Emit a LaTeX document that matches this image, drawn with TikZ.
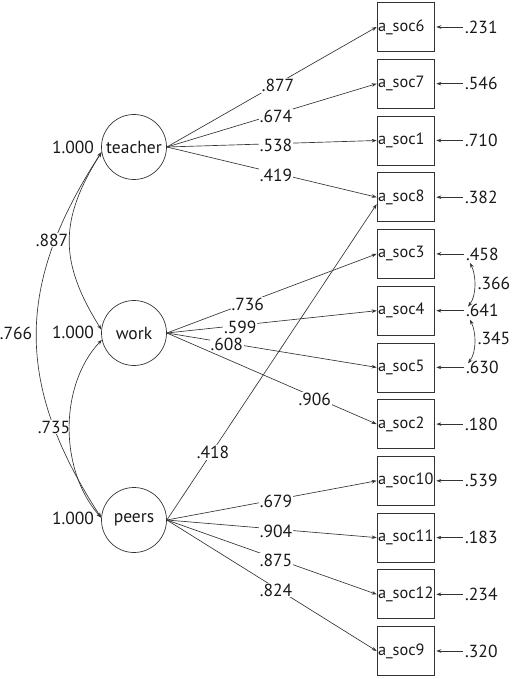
\documentclass[tikz,border=0pt]{standalone}
\usepackage{fontspec}
\setmainfont{PT Sans}
\usetikzlibrary{arrows.meta,calc}
\begin{document}
\begin{tikzpicture}[x=1pt,y=-1pt,
  every node/.style={font=\fontsize{17.5}{20}\selectfont, text=black!90},
  lat/.style={circle,draw=black!80,line width=0.7pt,minimum size=65pt,inner sep=0pt},
  obs/.style={rectangle,draw=black!80,line width=0.7pt,minimum width=57pt,minimum height=49pt,
              text width=55pt,inner xsep=1pt,inner ysep=0pt,align=left,
              font=\fontsize{16.3}{20}\selectfont},
  res/.style={anchor=west,inner xsep=1pt,inner ysep=1pt},
  lbl/.style={fill=white,inner sep=1pt,yshift=-2pt},
  tip/.style={-{Stealth[length=5pt,width=3.6pt]}},
  load/.style={draw=black!80,line width=0.65pt,tip},
  cov/.style={draw=black!80,line width=0.65pt,{Stealth[length=5pt,width=3.6pt]}-{Stealth[length=5pt,width=3.6pt]}}
]
\useasboundingbox (0,0) rectangle (512,679);

% latent variables
\node[lat] (teacher) at (134,147) {teacher};
\node[lat] (work)    at (134,333) {work};
\node[lat] (peers)   at (134,520) {peers};

% observed variables
\node[obs] (s6)  at (405.5,27.0)  {a\_soc6};
\node[obs] (s7)  at (405.5,83.7)  {a\_soc7};
\node[obs] (s1)  at (405.5,140.5) {a\_soc1};
\node[obs] (s8)  at (405.5,197.2) {a\_soc8};
\node[obs] (s3)  at (405.5,253.9) {a\_soc3};
\node[obs] (s4)  at (405.5,310.7) {a\_soc4};
\node[obs] (s5)  at (405.5,367.4) {a\_soc5};
\node[obs] (s2)  at (405.5,424.1) {a\_soc2};
\node[obs] (s10) at (405.5,480.8) {a\_soc10};
\node[obs] (s11) at (405.5,537.6) {a\_soc11};
\node[obs] (s12) at (405.5,594.3) {a\_soc12};
\node[obs] (s9)  at (405.5,651.0) {a\_soc9};

% residuals
\node[res] (r6)  at (464,27.0)  {.231};
\node[res] (r7)  at (464,83.7)  {.546};
\node[res] (r1)  at (464,140.5) {.710};
\node[res] (r8)  at (464,197.2) {.382};
\node[res] (r3)  at (465,253.9) {.458};
\node[res] (r4)  at (465,310.7) {.641};
\node[res] (r5)  at (465,367.4) {.630};
\node[res] (r2)  at (464,424.1) {.180};
\node[res] (r10) at (464,480.8) {.539};
\node[res] (r11) at (464,537.6) {.183};
\node[res] (r12) at (464,594.3) {.234};
\node[res] (r9)  at (464,651.0) {.320};

\foreach \i in {6,7,1,8,3,4,5,2,10,11,12,9}{
  \draw[load,shorten <=1pt,shorten >=2pt] (r\i.west) -- (s\i.east);
}

% teacher loadings
\draw[load] (teacher.east) -- node[lbl,pos=0.53]{.877} (s6.west);
\draw[load] (teacher.east) -- node[lbl,pos=0.52]{.674} (s7.west);
\draw[load] (teacher.east) -- node[lbl,pos=0.52]{.538} (s1.west);
\draw[load] (teacher.east) -- node[lbl,pos=0.52]{.419} (s8.west);

% work loadings
\draw[load] (work.east) -- node[lbl,pos=0.386]{.736} (s3.west);
\draw[load] (work.east) -- node[lbl,pos=0.35]{.599} (s4.west);
\draw[load] (work.east) -- node[lbl,pos=0.286]{.608} (s5.west);
\draw[load] (work.east) -- node[lbl,pos=0.705]{.906} (s2.west);

% peers loadings
\draw[load] (peers.east) -- node[lbl,pos=0.22]{.418} ([yshift=-7pt]s8.west);
\draw[load] (peers.east) -- node[lbl,pos=0.52]{.679} (s10.west);
\draw[load] (peers.east) -- node[lbl,pos=0.52]{.904} (s11.west);
\draw[load] (peers.east) -- node[lbl,pos=0.52]{.875} (s12.west);
\draw[load] (peers.east) -- node[lbl,pos=0.52]{.824} (s9.west);

% residual covariances
\draw[cov] ($(r3.west)+(5,9)$) .. controls +(6,12) and +(9,-12) .. ($(r4.west)+(3,-4)$);
\draw[cov] ($(r4.west)+(5,9)$) .. controls +(6,12) and +(9,-12) .. ($(r5.west)+(3,-4)$);
\node (c34) at (494,283) {.366};
\node (c45) at (494,338) {.345};

% variances
\node (v1) at (73,147) {1.000};
\node (v2) at (73,332) {1.000};
\node (v3) at (73,518) {1.000};

% factor covariances
\draw[cov] (teacher.189) .. controls (15,285) and (15,385) .. (peers.176);
\node (c13) at (16,333) {.766};
\node[fill=white,inner sep=1pt] (c12) at (52,240) {.887};
\node[fill=white,inner sep=1pt] (c23) at (54,427) {.735};
\draw[cov] (teacher.189) .. controls (59,220) and (59,262) .. (work.174);
\draw[cov] (work.192) .. controls (59,385) and (59,470) .. (peers.176);
\end{tikzpicture}
\end{document}
